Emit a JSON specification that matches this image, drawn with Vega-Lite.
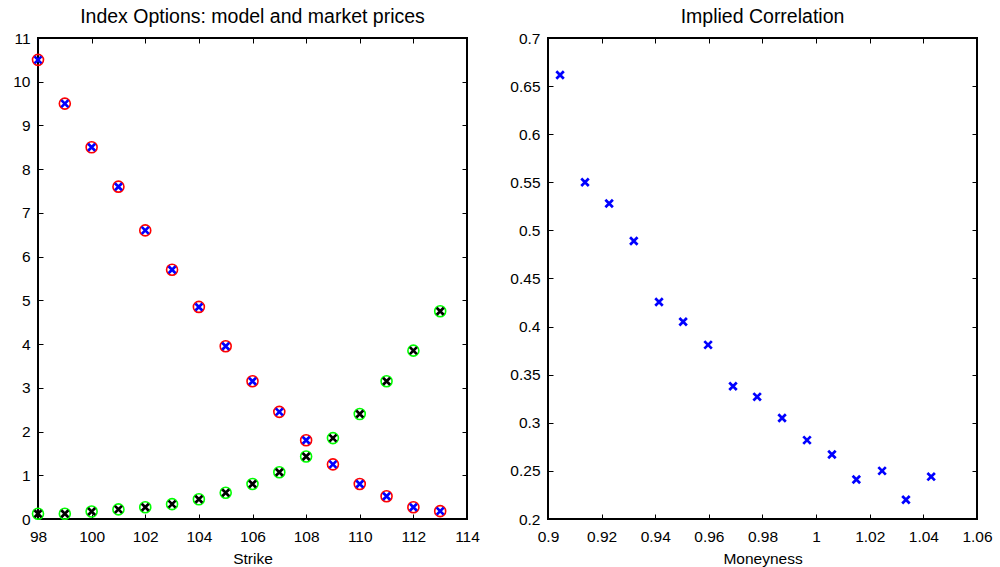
{
  "$schema": "https://vega.github.io/schema/vega-lite/v6.json",
  "padding": {"left": 11, "top": 5, "right": 0, "bottom": 0},
  "spacing": 27,
  "config": {
    "font": "Liberation Sans",
    "view": {"stroke": "black", "strokeWidth": 2},
    "axis": {"grid": false, "domain": false, "tickColor": "black", "tickSize": -5, "tickWidth": 1, "labelFlush": false, "labelFontSize": 15.5, "labelColor": "black", "titleFontSize": 15.5, "titleFontWeight": "normal", "titleColor": "black", "labelPadding": 13, "titlePadding": 7, "labelFont": "Liberation Sans", "titleFont": "Liberation Sans"},
    "axisX": {"labelPadding": 15},
    "title": {"fontSize": 19.5, "fontWeight": "normal", "font": "Liberation Sans", "offset": 4}
  },
  "datasets": {
    "options": [
      {"strike": 98, "call": 10.5, "callModel": 10.5, "put": 0.12, "putModel": 0.12},
      {"strike": 99, "call": 9.5, "callModel": 9.5, "put": 0.12, "putModel": 0.12},
      {"strike": 100, "call": 8.5, "callModel": 8.5, "put": 0.17, "putModel": 0.17},
      {"strike": 101, "call": 7.6, "callModel": 7.6, "put": 0.22, "putModel": 0.22},
      {"strike": 102, "call": 6.6, "callModel": 6.6, "put": 0.27, "putModel": 0.27},
      {"strike": 103, "call": 5.7, "callModel": 5.7, "put": 0.34, "putModel": 0.34},
      {"strike": 104, "call": 4.85, "callModel": 4.85, "put": 0.45, "putModel": 0.45},
      {"strike": 105, "call": 3.95, "callModel": 3.95, "put": 0.6, "putModel": 0.6},
      {"strike": 106, "call": 3.15, "callModel": 3.15, "put": 0.8, "putModel": 0.8},
      {"strike": 107, "call": 2.45, "callModel": 2.45, "put": 1.07, "putModel": 1.07},
      {"strike": 108, "call": 1.8, "callModel": 1.8, "put": 1.43, "putModel": 1.43},
      {"strike": 109, "call": 1.25, "callModel": 1.25, "put": 1.85, "putModel": 1.85},
      {"strike": 110, "call": 0.8, "callModel": 0.8, "put": 2.4, "putModel": 2.4},
      {"strike": 111, "call": 0.52, "callModel": 0.52, "put": 3.15, "putModel": 3.15},
      {"strike": 112, "call": 0.27, "callModel": 0.27, "put": 3.85, "putModel": 3.85},
      {"strike": 113, "call": 0.18, "callModel": 0.18, "put": 4.75, "putModel": 4.75}
    ],
    "corr": [
      {"m": 0.9045, "rho": 0.6615},
      {"m": 0.9138, "rho": 0.550},
      {"m": 0.9228, "rho": 0.528},
      {"m": 0.9320, "rho": 0.489},
      {"m": 0.9414, "rho": 0.4256},
      {"m": 0.9504, "rho": 0.405},
      {"m": 0.9597, "rho": 0.381},
      {"m": 0.9690, "rho": 0.338},
      {"m": 0.9780, "rho": 0.327},
      {"m": 0.9873, "rho": 0.305},
      {"m": 0.9966, "rho": 0.282},
      {"m": 1.0059, "rho": 0.267},
      {"m": 1.0150, "rho": 0.241},
      {"m": 1.0246, "rho": 0.250},
      {"m": 1.0335, "rho": 0.220},
      {"m": 1.0429, "rho": 0.244}
    ]
  },
  "hconcat": [
    {
      "width": 429,
      "height": 481,
      "title": "Index Options: model and market prices",
      "data": {"name": "options"},
      "layer": [
        {
          "layer": [
            {
              "mark": {"type": "point", "shape": "circle", "filled": false, "size": 121, "strokeWidth": 1.6, "color": "#ff0000", "opacity": 1},
              "encoding": {
                "x": {"field": "strike", "type": "quantitative", "scale": {"domain": [98, 114], "nice": false, "zero": false}, "axis": {"title": "Strike", "values": [98, 100, 102, 104, 106, 108, 110, 112, 114]}},
                "y": {"field": "call", "type": "quantitative", "scale": {"domain": [0, 11], "nice": false}, "axis": {"title": null, "values": [0, 1, 2, 3, 4, 5, 6, 7, 8, 9, 10, 11]}}
              }
            },
            {
              "mark": {"type": "point", "shape": "circle", "filled": false, "size": 121, "strokeWidth": 1.6, "color": "#00ff00", "opacity": 1},
              "encoding": {
                "x": {"field": "strike", "type": "quantitative", "axis": {"title": "Strike", "values": [98, 100, 102, 104, 106, 108, 110, 112, 114]}},
                "y": {"field": "put", "type": "quantitative", "axis": {"title": null, "values": [0, 1, 2, 3, 4, 5, 6, 7, 8, 9, 10, 11]}}
              }
            },
            {
              "mark": {"type": "point", "shape": "M-1,-1L1,1M-1,1L1,-1", "filled": false, "size": 49, "strokeWidth": 2.7, "color": "#0000ff", "opacity": 1},
              "encoding": {
                "x": {"field": "strike", "type": "quantitative", "axis": {"title": "Strike", "values": [98, 100, 102, 104, 106, 108, 110, 112, 114]}},
                "y": {"field": "callModel", "type": "quantitative", "axis": {"title": null, "values": [0, 1, 2, 3, 4, 5, 6, 7, 8, 9, 10, 11]}}
              }
            },
            {
              "mark": {"type": "point", "shape": "M-1,-1L1,1M-1,1L1,-1", "filled": false, "size": 49, "strokeWidth": 2.7, "color": "#000000", "opacity": 1},
              "encoding": {
                "x": {"field": "strike", "type": "quantitative", "axis": {"title": "Strike", "values": [98, 100, 102, 104, 106, 108, 110, 112, 114]}},
                "y": {"field": "putModel", "type": "quantitative", "axis": {"title": null, "values": [0, 1, 2, 3, 4, 5, 6, 7, 8, 9, 10, 11]}}
              }
            }
          ]
        },
        {
          "mark": {"type": "point", "opacity": 0},
          "encoding": {
            "x": {"field": "strike", "type": "quantitative", "axis": {"orient": "top", "title": null, "labels": false, "values": [98, 100, 102, 104, 106, 108, 110, 112, 114]}},
            "y": {"field": "call", "type": "quantitative", "axis": {"orient": "right", "title": null, "labels": false, "values": [0, 1, 2, 3, 4, 5, 6, 7, 8, 9, 10, 11]}}
          }
        }
      ],
      "resolve": {"axis": {"x": "independent", "y": "independent"}}
    },
    {
      "width": 429,
      "height": 481,
      "title": "Implied Correlation",
      "data": {"name": "corr"},
      "layer": [
        {
          "mark": {"type": "point", "shape": "M-1,-1L1,1M-1,1L1,-1", "filled": false, "size": 56, "strokeWidth": 2.7, "color": "#0000ff", "opacity": 1},
          "encoding": {
            "x": {"field": "m", "type": "quantitative", "scale": {"domain": [0.9, 1.06], "nice": false, "zero": false}, "axis": {"title": "Moneyness", "format": "~g", "values": [0.9, 0.92, 0.94, 0.96, 0.98, 1, 1.02, 1.04, 1.06]}},
            "y": {"field": "rho", "type": "quantitative", "scale": {"domain": [0.2, 0.7], "nice": false, "zero": false}, "axis": {"title": null, "format": "~g", "values": [0.2, 0.25, 0.3, 0.35, 0.4, 0.45, 0.5, 0.55, 0.6, 0.65, 0.7]}}
          }
        },
        {
          "mark": {"type": "point", "opacity": 0},
          "encoding": {
            "x": {"field": "m", "type": "quantitative", "axis": {"orient": "top", "title": null, "labels": false, "values": [0.9, 0.92, 0.94, 0.96, 0.98, 1, 1.02, 1.04, 1.06]}},
            "y": {"field": "rho", "type": "quantitative", "axis": {"orient": "right", "title": null, "labels": false, "values": [0.2, 0.25, 0.3, 0.35, 0.4, 0.45, 0.5, 0.55, 0.6, 0.65, 0.7]}}
          }
        }
      ],
      "resolve": {"axis": {"x": "independent", "y": "independent"}}
    }
  ]
}
